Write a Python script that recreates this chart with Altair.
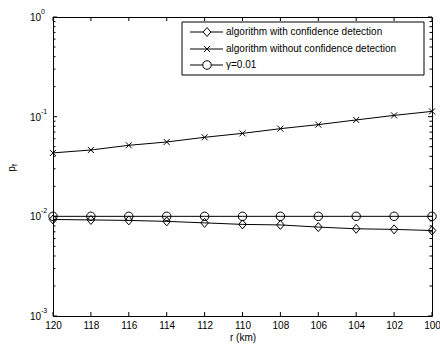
import altair as alt
import pandas as pd

r_km = [120, 118, 116, 114, 112, 110, 108, 106, 104, 102, 100]
with_cd = [0.0093, 0.0092, 0.0091, 0.0089, 0.0086, 0.0083, 0.0082, 0.0078, 0.0075, 0.0074, 0.0072]
without_cd = [0.0433, 0.0463, 0.0516, 0.0557, 0.0621, 0.068, 0.0758, 0.0832, 0.0927, 0.103, 0.113]
gamma = [0.01] * 11

labels = ["algorithm with confidence detection",
          "algorithm without confidence detection",
          "\u03b3=0.01"]
x_ticks = [100, 102, 104, 106, 108, 110, 112, 114, 116, 118, 120]
decades = [0.001, 0.01, 0.1, 1.0]
exponents = ["-3", "-2", "-1", "0"]
minor = [m * d for d in [0.001, 0.01, 0.1] for m in range(2, 10)]

W, H = 379, 299
FONT = "Liberation Sans"

DIAMOND = "M0,-1L0.85,0L0,1L-0.85,0Z"
XMARK = "M-1,-1L1,1M-1,1L1,-1"

xs = alt.Scale(domain=[100, 120], reverse=True, nice=False, zero=False)
ys = alt.Scale(type="log", domain=[0.001, 1], nice=False)

XAXIS = alt.Axis(values=x_ticks, tickSize=0, domain=False, grid=False,
                 labelFont=FONT, labelFontSize=10, labelColor="black",
                 labelFlush=False, labelOverlap=False, labelBound=False,
                 labelPadding=4, title="r (km)", titleFont=FONT,
                 titleFontSize=10, titleFontWeight="normal",
                 titleColor="black", titlePadding=2)

def series_df(vals):
    return pd.DataFrame({"r": r_km, "p": vals})

X = alt.X("r:Q", scale=xs, axis=XAXIS)
Y = alt.Y("p:Q", scale=ys, axis=None)

layers = []

# x ticks (inward, bottom and top)
xaxis_df = pd.DataFrame({"r": x_ticks})
layers.append(
    alt.Chart(xaxis_df).mark_rule(color="black", strokeWidth=1).encode(
        x=X, y=alt.value(H), y2=alt.value(H - 4))
)
layers.append(
    alt.Chart(xaxis_df).mark_rule(color="black", strokeWidth=1).encode(
        x=X, y=alt.value(0), y2=alt.value(4))
)

# y ticks
ymaj = pd.DataFrame({"p": decades, "e": exponents})
ymin = pd.DataFrame({"p": minor})
for df, ln in [(ymaj, 4), (ymin, 2.5)]:
    layers.append(alt.Chart(df).mark_rule(color="black", strokeWidth=1).encode(
        y=Y, x=alt.value(0), x2=alt.value(ln)))
    layers.append(alt.Chart(df).mark_rule(color="black", strokeWidth=1).encode(
        y=Y, x=alt.value(W), x2=alt.value(W - ln)))

# y tick labels with superscripts
layers.append(alt.Chart(ymaj).mark_text(align="right", baseline="middle", font=FONT,
                                        fontSize=10, color="black", dx=-12, dy=1).encode(
    y=Y, x=alt.value(0), text=alt.value("10")))
layers.append(alt.Chart(ymaj).mark_text(align="left", baseline="middle", font=FONT,
                                        fontSize=7, color="black", dx=-12, dy=-5).encode(
    y=Y, x=alt.value(0), text="e:N"))

# y axis title p_f
one = pd.DataFrame({"k": [0]})
layers.append(alt.Chart(one).mark_text(angle=270, font=FONT, fontSize=10, color="black",
                                       baseline="middle", align="center").encode(
    x=alt.value(-41), y=alt.value(152), text=alt.value("p")))
layers.append(alt.Chart(one).mark_text(angle=270, font=FONT, fontSize=7, color="black",
                                       baseline="middle", align="center").encode(
    x=alt.value(-38), y=alt.value(148), text=alt.value("f")))

# data series
series = [
    (with_cd, DIAMOND, 81),
    (without_cd, XMARK, 36),
    (gamma, "circle", 72),
]
for vals, shape, size in series:
    df = series_df(vals)
    layers.append(alt.Chart(df).mark_line(color="black", strokeWidth=1).encode(x=X, y=Y))
    layers.append(alt.Chart(df).mark_point(shape=shape, size=size, filled=False,
                                           color="black", strokeWidth=1, opacity=1).encode(x=X, y=Y))

# legend
lx0, lx1, ly0, ly1 = 129, 371, 5, 58
layers.append(alt.Chart(one).mark_rect(fill="white", stroke="black", strokeWidth=1).encode(
    x=alt.value(lx0), x2=alt.value(lx1), y=alt.value(ly0), y2=alt.value(ly1)))
rows = [15, 32, 48]
for (vals, shape, size), lab, ry in zip(series, labels, rows):
    layers.append(alt.Chart(one).mark_rule(color="black", strokeWidth=1).encode(
        x=alt.value(137), x2=alt.value(170), y=alt.value(ry)))
    layers.append(alt.Chart(one).mark_point(shape=shape, size=size, filled=False,
                                            color="black", strokeWidth=1, opacity=1,
                                            fill="white").encode(
        x=alt.value(154), y=alt.value(ry)))
    layers.append(alt.Chart(one).mark_text(align="left", baseline="middle", font=FONT,
                                           fontSize=10, color="black").encode(
        x=alt.value(173), y=alt.value(ry), text=alt.value(lab)))

chart = alt.layer(*layers).properties(
    width=W, height=H,
    autosize=alt.AutoSizeParams(type="none"),
    padding={"left": 53, "top": 17, "right": 8, "bottom": 28},
    background="white",
).configure_view(stroke="black", strokeWidth=1)

chart.save("out.html", embed_options={"renderer": "svg", "actions": False})
